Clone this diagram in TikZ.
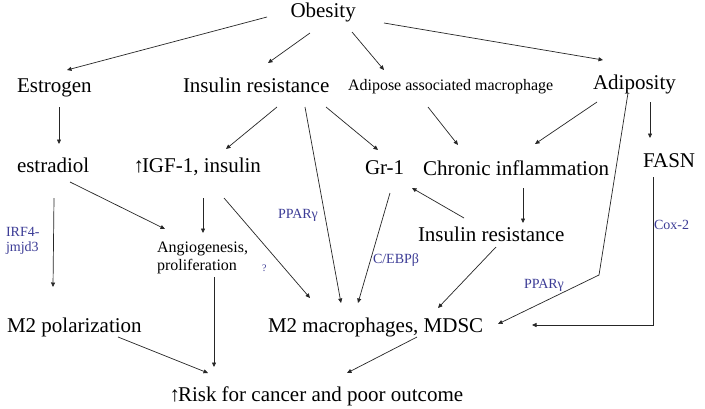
\documentclass[tikz,border=0pt]{standalone}
\usepackage{fontspec}
\setmainfont{Liberation Serif}
\usetikzlibrary{calc,arrows.meta}
\definecolor{lblue}{RGB}{60,60,150}
\begin{document}
\begin{tikzpicture}[x=1pt,y=-1pt,
  big/.style={font=\fontsize{21}{24}\selectfont, inner sep=0pt, outer sep=0pt, anchor=base west},
  mid/.style={font=\fontsize{16}{18}\selectfont, inner sep=0pt, outer sep=0pt},
  lab/.style={font=\fontsize{14}{15.5}\selectfont, text=lblue, inner sep=0pt, outer sep=0pt, anchor=base west},
  arr/.style={draw=black!85, line width=0.7pt, -{Triangle[length=4.5pt,width=4pt]}}]
\fill[white] (0,0) rectangle (705,408);
\useasboundingbox (0,0) rectangle (705,408);
% nodes
\node[big] (obesity) at (290.5,17) {Obesity};
\node[big] (estrogen) at (17,92) {Estrogen};
\node[big] (ir1) at (183,92) {Insulin resistance};
\node[mid, anchor=base west] (adipose) at (348,90) {Adipose associated macrophage};
\node[big] (adiposity) at (593,89) {Adiposity};
\node[big] (estradiol) at (17,172) {estradiol};
\node[big] (igf) at (142,172) {\llap{↑\kern-2pt}IGF-1, insulin};
\node[big] (gr1) at (365,174) {Gr-1};
\node[big] (chronic) at (423,175) {Chronic inflammation};
\node[big] (fasn) at (643,167) {FASN};
\node[big] (ir2) at (418,241) {Insulin resistance};
\node[mid, anchor=north west, align=left] (angio) at (157,242) {Angiogenesis,\\proliferation};
\node[big] (m2pol) at (7,332) {M2 polarization};
\node[big] (m2mac) at (268,332) {M2 macrophages, MDSC};
\node[big] (risk) at (178,401) {\llap{↑\kern-2pt}Risk for cancer and poor outcome};
% labels
\node[lab, anchor=north west, align=left] (irf) at (6,227) {IRF4-\\jmjd3};
\node[lab] (ppar1) at (278,218) {PPARγ};
\node[lab, font=\fontsize{10}{11}\selectfont] (q) at (262,271) {?};
\node[lab] (cebp) at (373,263) {C/EBPβ};
\node[lab] (ppar2) at (524,288) {PPARγ};
\node[lab] (cox) at (654,229) {Cox-2};
% connectors
\draw[arr] ($(obesity.base west)+(-23.5,0)$) -- ($(estrogen.base west)+(50,-22)$);
\draw[arr] ($(obesity.base west)+(19.5,16)$) -- ($(ir1.base west)+(85,-29)$);
\draw[arr] ($(obesity.base west)+(61.5,15)$) -- ($(adipose.base west)+(36,-20)$);
\draw[arr] ($(obesity.base west)+(93.5,6)$) -- ($(adiposity.base west)+(10,-29)$);
\draw[arr] ($(estrogen.base west)+(42,15)$) -- ($(estradiol.base west)+(42,-28)$);
\draw[arr] ($(ir1.base west)+(94,15)$) -- ($(igf.base west)+(84,-23)$);
\draw[arr] ($(ir1.base west)+(122,15)$) -- ($(m2mac.base west)+(73,-29)$);
\draw[arr] ($(ir1.base west)+(143,15)$) -- ($(gr1.base west)+(13,-24)$);
\draw[arr] ($(adipose.base west)+(80,17)$) -- ($(chronic.base west)+(35,-30)$);
\draw[arr] ($(adiposity.base west)+(4,13)$) -- ($(chronic.base west)+(112,-31)$);
\draw[arr] ($(adiposity.base west)+(57,13)$) -- ($(fasn.base west)+(7,-29)$);
\draw[arr] ($(adiposity.base west)+(35,4)$) -- ($(adiposity.base west)+(6,186)$) -- ($(m2mac.base west)+(230,-8)$);
\draw[arr] ($(fasn.base west)+(10,10)$) |- ($(m2mac.base west)+(264,-7)$);
\draw[arr] ($(estradiol.base west)+(37,26)$) -- ($(m2pol.base west)+(46,-45)$);
\draw[arr] ($(estradiol.base west)+(53,10)$) -- ($(angio.north west)+(8,-13)$);
\draw[arr] ($(igf.base west)+(61,26)$) -- ($(angio.north west)+(46,-9)$);
\draw[arr] ($(igf.base west)+(82,26)$) -- ($(m2mac.base west)+(42,-34)$);
\draw[arr] ($(gr1.base west)+(25,19)$) -- ($(m2mac.base west)+(90,-29)$);
\draw[arr] ($(ir2.base west)+(46,-23)$) -- ($(gr1.base west)+(47,14)$);
\draw[arr] ($(chronic.base west)+(100,13)$) -- ($(ir2.base west)+(105,-18)$);
\draw[arr] ($(ir2.base west)+(78,6)$) -- ($(m2mac.base west)+(170,-24)$);
\draw[arr] ($(m2pol.base west)+(111,5)$) -- ($(risk.base west)+(30,-28)$);
\draw[arr] ($(angio.north west)+(57,35)$) -- ($(risk.base west)+(36,-34)$);
\draw[arr] ($(m2mac.base west)+(149,5)$) -- ($(risk.base west)+(169,-28)$);
\end{tikzpicture}
\end{document}
